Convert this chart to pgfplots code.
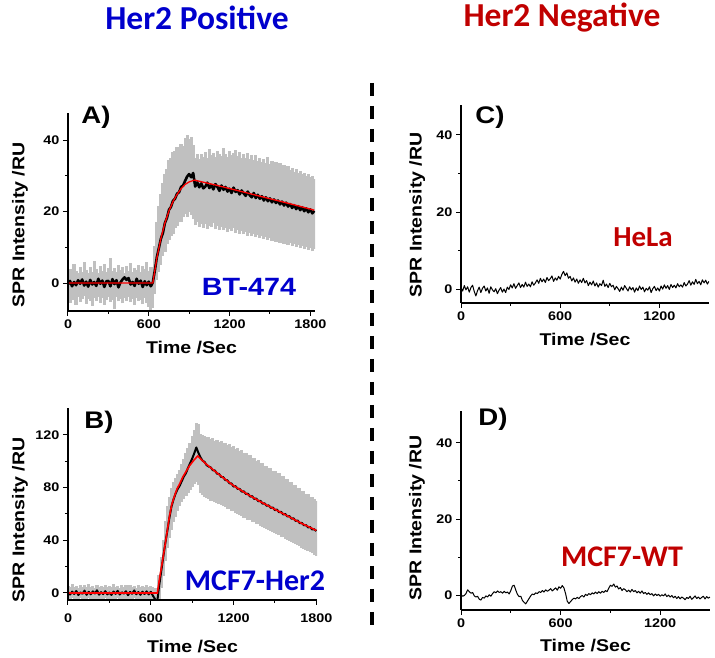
\documentclass[border=0pt]{standalone}
\usepackage{fontspec}
\setmainfont{Liberation Sans}[FakeStretch=1.15]
\newfontfamily\calib{Carlito}
\usepackage{pgfplots}
\usepackage{pgfplotstable}
\pgfplotsset{compat=1.18}
\definecolor{posblue}{RGB}{0,0,205}
\definecolor{negred}{RGB}{192,0,0}
\definecolor{band}{RGB}{192,192,192}
\definecolor{fitred}{RGB}{255,0,0}

\pgfplotsset{spr/.style={
    scale only axis,
    axis lines=left,
    axis line style={line width=1.3pt,-},
    axis on top,
    tick align=outside,
    tick style={black,line width=1pt},
    major tick length=5pt,
    minor tick length=3pt,
    minor x tick num=1,
    minor y tick num=1,
    tick label style={font=\bfseries\fontsize{12.5}{13}\selectfont},
    /pgf/number format/assume math mode=true,
    /pgf/number format/1000 sep={},
    scaled ticks=false,
    label style={font=\bfseries\fontsize{17}{18}\selectfont},
    xlabel={Time /Sec},
    ylabel={SPR Intensity /RU},
  },
  sdband/.style={draw=none, mark=none,
    error bars/.cd, y dir=plus, y explicit, error mark=none,
    error bar style={band, line width=3.2pt}},
}

\begin{document}
% panel A: BT-474 (t, lower band, upper band, mean signal)
\pgfplotstableread{
t lo hi y
0 -4.2 3.1 -0.4
15 -5.6 4.0 0.6
30 -3.9 2.6 -0.9
45 -4.8 5.2 0.3
60 -6.1 3.4 -0.6
75 -4.0 2.9 0.8
90 -5.3 4.6 -0.2
105 -4.5 3.2 1.0
120 -3.7 5.8 -0.7
135 -5.8 3.6 0.4
150 -4.4 2.8 -1.0
165 -5.0 4.4 0.9
180 -6.4 3.1 -0.4
195 -4.1 6.2 0.3
210 -4.9 3.8 -0.8
225 -3.8 2.7 1.2
240 -5.5 4.9 -0.2
255 -4.3 3.3 0.7
270 -6.0 5.4 -1.1
285 -4.6 3.0 0.5
300 -3.9 4.1 0.6
315 -5.2 7.0 -0.9
330 -4.7 3.5 1.1
345 -7.3 4.2 -0.3
360 -4.0 3.0 0.8
375 -5.1 5.0 -1.2
390 -4.4 3.7 0.2
405 -5.7 4.5 1.0
420 -4.2 2.9 1.6
435 -4.9 4.8 0.9
450 -3.8 3.4 1.4
465 -5.4 5.6 -0.4
480 -4.5 3.2 0.3
495 -6.2 4.3 -0.8
510 -4.1 3.6 1.2
525 -5.0 5.1 -0.2
540 -4.6 3.0 0.7
555 -5.9 4.7 -1.1
570 -4.3 3.9 0.5
585 -5.5 6.0 -0.6
600 -6.6 3.3 0.4
615 -7.5 4.4 -0.9
630 -7.0 4.5 0.2
645 -3.0 10.5 3.5
660 0.8 17.0 7.2
675 3.2 21.5 9.8
690 5.0 25.0 12.4
705 7.5 28.0 14.0
720 8.6 30.5 16.8
735 10.8 32.0 18.2
750 12.0 34.5 20.5
765 13.2 35.0 21.3
780 13.8 36.8 23.0
795 15.5 37.0 23.6
810 15.9 38.2 25.0
825 17.3 37.6 25.4
840 17.0 39.0 26.9
855 18.6 38.4 27.3
870 19.2 40.5 28.6
885 18.5 41.5 29.8
900 20.0 40.2 30.5
915 19.1 41.0 29.6
930 18.0 38.5 30.8
945 16.2 35.0 27.0
960 17.1 36.2 28.2
975 15.8 34.6 26.8
990 16.6 36.0 27.9
1005 15.5 35.3 26.5
1020 16.4 36.8 27.0
1035 15.2 35.1 28.1
1050 16.0 37.4 26.6
1065 15.6 35.8 27.4
1080 16.8 36.5 26.2
1095 15.0 35.2 27.7
1110 15.9 37.0 26.9
1125 14.8 36.1 25.8
1140 15.7 35.6 27.3
1155 14.9 37.8 26.1
1170 15.5 36.0 26.9
1185 14.4 35.4 25.6
1200 15.2 36.9 26.4
1215 14.6 35.7 25.2
1230 15.4 36.3 26.7
1245 14.1 37.2 25.5
1260 14.9 35.5 26.0
1275 13.8 36.6 24.8
1290 14.5 35.1 25.9
1305 13.6 36.2 25.1
1320 14.2 35.0 24.4
1335 13.3 36.4 25.6
1350 14.0 34.8 24.6
1365 13.1 35.7 24.0
1380 13.8 34.5 25.2
1395 12.9 35.9 23.8
1410 13.5 34.2 24.7
1425 12.6 35.0 23.6
1440 13.2 33.9 24.3
1455 12.4 34.8 23.1
1470 13.0 33.6 24.0
1485 12.1 35.2 22.9
1500 12.7 33.4 23.7
1515 11.8 34.1 22.6
1530 12.5 33.0 23.4
1545 11.5 33.8 22.4
1560 12.2 32.7 23.1
1575 11.3 33.5 22.0
1590 11.9 32.4 22.8
1605 11.0 33.1 21.7
1620 11.6 32.0 22.5
1635 10.7 32.8 21.4
1650 11.3 31.6 22.1
1665 10.4 32.2 21.0
1680 11.0 31.2 21.8
1695 10.1 31.8 20.7
1710 10.7 30.8 21.5
1725 9.8 31.3 20.4
1740 10.4 30.4 21.2
1755 9.5 30.9 20.1
1770 10.1 30.0 20.9
1785 9.2 30.4 19.8
1800 9.8 29.6 20.6
1815 8.9 30.0 19.5
1830 9.4 29.2 20.2
}\tabA

% panel B: MCF7-Her2
\pgfplotstableread{
t lo hi y
0 -4.0 5.5 0.8
15 -5.5 4.2 -1.2
30 -4.2 6.8 1.0
45 -6.0 4.8 -0.8
60 -4.8 5.2 1.5
75 -5.2 4.0 -1.6
90 -3.8 6.2 0.4
105 -5.8 4.5 -0.6
120 -4.5 5.9 1.8
135 -6.2 4.3 -1.4
150 -4.1 6.5 0.9
165 -5.4 4.6 -1.0
180 -4.6 5.3 1.2
195 -5.9 4.1 -0.4
210 -4.3 6.0 2.0
225 -5.1 4.7 -1.3
240 -4.7 5.6 0.6
255 -6.1 4.4 -0.9
270 -4.0 6.3 1.4
285 -5.6 4.9 -1.1
300 -4.4 5.1 0.3
315 -5.3 4.2 -1.5
330 -4.9 6.6 1.1
345 -6.4 4.6 -0.7
360 -4.2 5.4 1.6
375 -5.7 4.0 -1.2
390 -4.6 6.1 0.5
405 -5.0 4.8 -0.5
420 -4.3 5.7 1.3
435 -6.0 4.3 -1.7
450 -4.8 6.4 0.8
465 -5.5 4.5 -0.6
480 -4.1 5.5 1.9
495 -5.8 4.1 -1.0
510 -4.5 6.0 0.7
525 -5.2 4.7 -1.4
540 -4.7 5.3 1.0
555 -6.3 4.4 -0.8
570 -4.4 6.2 1.2
585 -5.4 4.8 -1.1
600 -4.9 5.6 0.9
615 -6.0 4.2 -2.0
630 -9.0 3.5 -4.5
645 -11.0 4.0 -8.5
660 -6.0 14.0 5.0
675 4.0 27.0 16.0
690 13.0 40.0 27.0
705 24.0 55.0 37.5
720 34.0 66.0 47.0
735 42.0 73.0 57.0
750 48.0 80.0 65.5
765 54.0 84.0 71.0
780 58.0 87.0 75.5
795 62.0 90.0 79.0
810 66.0 93.5 81.5
825 69.0 98.0 85.0
840 71.5 102.0 88.5
855 73.5 106.0 91.0
870 76.0 110.0 95.0
885 78.5 114.0 98.5
900 80.5 119.0 102.0
915 82.5 124.0 106.0
930 84.0 129.0 110.5
945 82.0 128.0 106.5
960 76.0 121.0 103.0
975 74.5 120.0 100.5
990 73.0 119.0 99.5
1005 72.0 118.5 97.0
1020 71.5 118.8 96.0
1035 70.2 116.9 95.3
1050 70.0 117.8 93.2
1065 68.8 115.6 93.0
1080 68.4 116.4 90.6
1095 67.2 114.7 90.4
1110 66.9 115.5 88.1
1125 65.8 113.6 88.0
1140 65.5 114.2 85.7
1155 64.1 112.4 85.6
1170 63.6 113.0 83.3
1185 62.4 111.1 83.2
1200 62.0 111.6 80.8
1215 60.7 109.5 81.1
1230 60.3 110.0 79.0
1245 59.0 107.8 79.0
1260 58.6 108.2 76.9
1275 57.3 106.2 77.2
1290 56.9 106.4 75.1
1305 55.7 104.2 75.4
1320 55.3 104.5 73.2
1335 54.0 102.3 73.5
1350 53.6 102.5 71.4
1365 52.4 100.4 71.7
1380 52.0 100.6 69.6
1395 50.8 98.5 70.0
1410 50.3 98.4 67.8
1425 49.2 96.5 68.1
1440 48.6 96.7 66.2
1455 47.6 94.6 66.5
1470 47.0 94.8 64.6
1485 46.1 92.7 64.9
1500 45.4 92.8 62.9
1515 44.5 90.6 63.3
1530 43.9 90.8 61.3
1545 42.8 88.5 61.6
1560 42.2 88.6 59.6
1575 41.2 86.4 60.0
1590 40.6 86.5 58.1
1605 39.5 84.2 58.4
1620 38.9 84.3 56.4
1635 37.8 82.0 56.7
1650 37.2 82.0 54.7
1665 36.1 79.8 55.0
1680 35.4 79.7 53.0
1695 34.4 77.6 53.2
1710 33.6 77.3 51.4
1725 32.6 75.4 51.6
1740 31.8 75.0 49.8
1755 30.9 73.2 50.1
1770 30.0 72.6 48.2
1785 29.1 71.0 48.4
1800 28.2 70.2 47.0
}\tabB

% panel C: HeLa
\pgfplotstableread{
t y
0 0.3
10 -0.5
20 0.9
30 -0.2
40 0.6
50 -0.8
60 0.4
70 1.0
80 -0.6
90 -1.8
100 -0.4
110 0.5
120 -0.9
130 0.2
140 0.8
150 -0.5
160 0.3
170 -1.1
180 0.6
190 -0.2
200 -0.7
210 0.1
220 -1.2
230 -0.3
240 0.4
250 -0.8
260 0.0
270 -0.9
280 0.5
290 -0.1
300 1.1
310 0.3
320 1.4
330 0.2
340 0.9
350 1.6
360 0.4
370 1.2
380 0.5
390 1.8
400 0.7
410 1.3
420 0.6
430 1.9
440 1.0
450 1.6
460 2.4
470 1.5
480 2.8
490 1.9
500 2.6
510 1.7
520 3.0
530 2.2
540 2.7
550 3.4
560 2.0
570 2.9
580 2.3
590 3.3
600 2.6
610 3.8
620 4.6
630 3.5
640 4.2
650 2.8
660 3.3
670 2.1
680 2.9
690 1.8
700 2.6
710 1.5
720 2.4
730 1.7
740 2.8
750 1.6
760 2.2
770 0.9
780 1.8
790 1.1
800 2.1
810 0.8
820 1.6
830 0.5
840 1.4
850 0.9
860 2.3
870 0.7
880 1.3
890 0.4
900 1.5
910 0.6
920 1.0
930 -0.2
940 0.7
950 0.1
960 -0.6
970 0.5
980 -0.3
990 0.9
1000 0.2
1010 -0.5
1020 0.6
1030 -0.2
1040 0.4
1050 -0.8
1060 0.3
1070 -0.4
1080 0.8
1090 -0.1
1100 0.5
1110 -0.7
1120 0.2
1130 -0.3
1140 0.6
1150 -0.9
1160 0.1
1170 0.7
1180 -0.4
1190 0.3
1200 -0.5
1210 0.8
1220 0.0
1230 1.1
1240 0.2
1250 0.9
1260 -0.1
1270 1.2
1280 0.4
1290 1.0
1300 0.3
1310 1.4
1320 0.6
1330 1.1
1340 0.5
1350 1.7
1360 0.8
1370 1.3
1380 2.2
1390 1.0
1400 1.9
1410 1.2
1420 2.5
1430 1.4
1440 2.0
1450 1.1
1460 2.4
1470 1.6
1480 2.3
1490 1.3
1500 2.0
}\tabC

% panel D: MCF7-WT
\pgfplotstableread{
t y
0 0.1
10 -0.3
20 -0.1
30 0.4
40 1.4
50 0.9
60 0.5
70 0.7
80 -0.2
90 -0.5
100 -0.3
110 -1.1
120 -1.3
130 -0.6
140 -0.8
150 -0.2
160 -0.5
170 0.1
180 -0.3
190 0.4
200 0.9
210 0.6
220 1.1
230 0.7
240 0.9
250 0.5
260 1.0
270 0.6
280 0.8
290 0.3
300 1.2
310 2.4
320 2.6
330 1.3
340 0.2
350 -0.4
360 -0.3
370 -1.4
380 -1.9
390 -2.3
400 -1.6
410 -0.9
420 -0.2
430 0.3
440 0.1
450 0.6
460 0.4
470 0.9
480 0.7
490 1.2
500 0.8
510 1.4
520 1.0
530 1.3
540 1.7
550 1.1
560 1.5
570 1.9
580 1.3
590 2.2
600 1.8
610 2.5
620 1.9
630 0.4
640 -1.6
650 -2.2
660 -1.7
670 -1.2
680 -0.8
690 -1.0
700 -0.6
710 -0.9
720 -0.4
730 -0.1
740 -0.5
750 0.2
760 -0.1
770 0.4
780 0.1
790 0.6
800 0.3
810 0.8
820 0.4
830 0.9
840 0.5
850 1.0
860 0.7
870 1.2
880 0.9
890 1.8
900 2.6
910 2.3
920 2.9
930 2.1
940 2.4
950 1.6
960 2.0
970 1.2
980 1.7
990 1.4
1000 0.9
1010 1.3
1020 0.8
1030 1.5
1040 0.9
1050 1.2
1060 0.6
1070 1.0
1080 0.5
1090 1.1
1100 0.4
1110 0.7
1120 0.2
1130 0.6
1140 0.1
1150 0.4
1160 -0.2
1170 0.3
1180 -0.1
1190 0.2
1200 -0.3
1210 0.1
1220 -0.2
1230 0.3
1240 -0.4
1250 0.0
1260 -0.5
1270 -0.1
1280 -0.7
1290 -0.3
1300 -0.9
1310 -0.4
1320 -1.0
1330 -0.5
1340 -0.8
1350 -1.2
1360 -0.6
1370 -0.9
1380 -0.3
1390 -1.1
1400 -0.7
1410 -0.2
1420 -0.9
1430 -0.5
1440 -1.0
1450 -0.6
1460 -0.3
1470 -1.0
1480 -0.4
1490 -0.8
1500 -0.5
}\tabD

\begin{tikzpicture}

% ---- A) BT-474
\begin{axis}[spr, at={(68pt,347pt)}, anchor=south west,
    width=247pt, height=198pt,
    xmin=0, xmax=1835, ymin=-7.8, ymax=47.6,
    xtick={0,600,1200,1800}, ytick={0,20,40},
    xlabel style={at={(axis description cs:0.5,-0.187)},anchor=center},
    ylabel style={at={(axis description cs:-0.194,0.434)},anchor=center}]
  \addplot[sdband] table[x=t, y=lo, y error expr=\thisrow{hi}-\thisrow{lo}]{\tabA};
  \addplot[black, line width=2.6pt, line join=round] table[x=t,y=y]{\tabA};
  \addplot[fitred, line width=1.3pt] coordinates {
    (0,0) (630,0) (645,3.5) (660,7) (690,12.5) (720,16.8) (750,20.2)
    (780,22.8) (810,24.8) (840,26.4) (870,27.6) (900,28.3) (940,28.8)
    (1100,27.4) (1300,25.5) (1500,23.6) (1700,21.7) (1830,20.4)};
\end{axis}

% ---- B) MCF7-Her2
\begin{axis}[spr, at={(68pt,58pt)}, anchor=south west,
    width=249pt, height=192pt,
    xmin=0, xmax=1805, ymin=-5.3, ymax=140.5,
    xtick={0,600,1200,1800}, ytick={0,40,80,120},
    xticklabel style={yshift=-5pt},
    xlabel style={at={(axis description cs:0.5,-0.24)},anchor=center},
    ylabel style={at={(axis description cs:-0.193,0.417)},anchor=center}]
  \addplot[sdband] table[x=t, y=lo, y error expr=\thisrow{hi}-\thisrow{lo}]{\tabB};
  \addplot[black, line width=2pt, line join=round] table[x=t,y=y]{\tabB};
  \addplot[fitred, line width=1.6pt] coordinates {
    (0,0) (648,0) (665,12) (680,21) (700,34) (715,44) (735,58) (752,67)
    (770,73) (790,79) (810,83) (832,88) (860,93) (880,96.5) (910,100.5)
    (940,104) (1000,98) (1100,89.5) (1200,81.5) (1300,75) (1400,69)
    (1500,63.5) (1600,58) (1700,52.5) (1800,47.5)};
\end{axis}

% ---- C) HeLa
\begin{axis}[spr, at={(461pt,355pt)}, anchor=south west,
    width=248pt, height=198pt,
    xmin=0, xmax=1500, ymin=-3.6, ymax=47.8,
    xtick={0,600,1200}, ytick={0,20,40},
    xlabel style={at={(axis description cs:0.5,-0.187)},anchor=center},
    ylabel style={at={(axis description cs:-0.177,0.444)},anchor=center}]
  \addplot[black, line width=1pt, line join=round] table[x=t,y=y]{\tabC};
\end{axis}

% ---- D) MCF7-WT
\begin{axis}[spr, at={(461pt,48pt)}, anchor=south west,
    width=249pt, height=199pt,
    xmin=0, xmax=1500, ymin=-3.9, ymax=48.4,
    xtick={0,600,1200}, ytick={0,20,40},
    xlabel style={at={(axis description cs:0.5,-0.181)},anchor=center},
    ylabel style={at={(axis description cs:-0.177,0.462)},anchor=center}]
  \addplot[black, line width=1pt, line join=round] table[x=t,y=y]{\tabD};
\end{axis}

% separator and annotations
\draw[black, line width=3.5pt, dash pattern=on 13pt off 10pt] (372pt,575pt) -- (372pt,27pt);
\node[text=posblue, font=\calib\bfseries\fontsize{33.5}{34}\selectfont] at (197pt,640pt) {Her2 Positive};
\node[text=negred, font=\calib\bfseries\fontsize{33.5}{34}\selectfont] at (562pt,640pt) {Her2 Negative};
\node[font=\bfseries\fontsize{24}{24}\selectfont] at (96pt,541pt) {A)};
\node[font=\bfseries\fontsize{24}{24}\selectfont] at (99pt,236pt) {B)};
\node[font=\bfseries\fontsize{24}{24}\selectfont] at (490pt,541pt) {C)};
\node[font=\bfseries\fontsize{24}{24}\selectfont] at (493pt,239pt) {D)};
\node[text=posblue, font=\bfseries\fontsize{25}{25}\selectfont] at (249pt,371pt) {BT-474};
\node[text=posblue, font=\calib\bfseries\fontsize{30}{30}\selectfont] at (255pt,77pt) {MCF7-Her2};
\node[text=negred, font=\calib\bfseries\fontsize{29}{29}\selectfont] at (643pt,421pt) {HeLa};
\node[text=negred, font=\calib\bfseries\fontsize{30}{30}\selectfont] at (622pt,101pt) {MCF7-WT};
\path (0pt,0pt) rectangle (715pt,655pt);
\end{tikzpicture}
\end{document}
